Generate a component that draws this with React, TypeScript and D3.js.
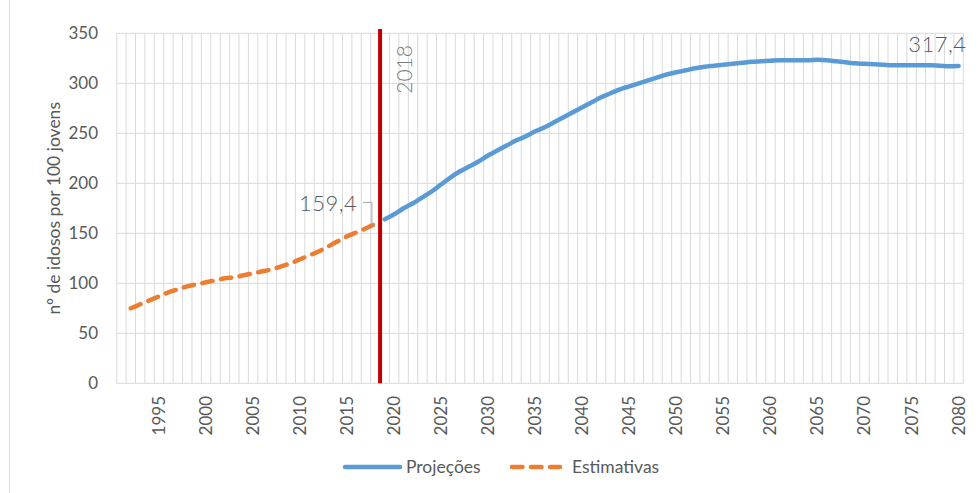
import React from "react";
import * as d3 from "d3";

// Category axis: one slot per year
const years: number[] = d3.range(1991, 2081);

// Estimativas (1992–2018)
const estYears: number[] = d3.range(1992, 2019);
const estValues: number[] = [
  75, 79, 83, 87, 91, 94, 97, 99, 101, 103, 105, 106, 108, 110, 112, 114, 117,
  120, 124, 128, 132, 137, 142, 147, 151, 155, 159.4,
];

// Projeções (2019–2080)
const projYears: number[] = d3.range(2019, 2081);
const projValues: number[] = [
  164, 169, 175, 180, 186, 192, 199, 206, 212, 217, 222, 228, 233, 238, 243,
  247, 252, 256, 261, 266, 271, 276, 281, 286, 290, 294, 297, 300, 303, 306,
  309, 311, 313, 315, 316.5, 317.5, 318.5, 319.5, 320.5, 321.5, 322, 322.5,
  323, 323, 323, 323, 323.5, 323, 322, 321, 320, 319.5, 319, 318.5, 318, 318,
  318, 318, 318, 317.5, 317, 317.4,
];

const yTicks: number[] = [0, 50, 100, 150, 200, 250, 300, 350];
const xTickYears: number[] = years.filter((y) => y % 5 === 0);
const markerYear = 2018;

const W = 979;
const H = 493;
const plot = { left: 116.7, right: 963.3, top: 33.3, bottom: 383.3 };

const FONT = "Lato, 'Open Sans', sans-serif";
const TXT = "#595959";
const GRID = "#d9d9d9";

export default function App() {
  const x = d3
    .scaleBand<number>()
    .domain(years)
    .range([plot.left, plot.right])
    .paddingInner(0)
    .paddingOuter(0);
  const bw = x.bandwidth();
  const xc = (yr: number) => (x(yr) as number) + bw / 2;
  const y = d3.scaleLinear().domain([0, 350]).range([plot.bottom, plot.top]);

  const line = d3
    .line<[number, number]>()
    .x((d) => xc(d[0]))
    .y((d) => y(d[1]))
    .curve(d3.curveMonotoneX);

  const estPts: [number, number][] = estYears.map((yr, i) => [yr, estValues[i]]);
  const projPts: [number, number][] = projYears.map((yr, i) => [yr, projValues[i]]);

  const boundaries = d3.range(years.length + 1).map((i) => plot.left + i * bw);
  const markerX = (x(markerYear) as number) + bw;

  const lastEst = estPts[estPts.length - 1];
  const lastProj = projPts[projPts.length - 1];
  const ex = xc(lastEst[0]);
  const ey = y(lastEst[1]);
  const px = xc(lastProj[0]);
  const py = y(lastProj[1]);

  const fmt = (v: number) => v.toFixed(1).replace(".", ",");

  return (
    <svg
      width={W}
      height={H}
      style={{ position: "absolute", left: 0, top: 0, background: "#fff" }}
      fontFamily={FONT}
    >
      <rect x={0} y={0} width={W} height={H} fill="#fff" />
      {/* chart frame edge */}
      <line x1={9.5} x2={9.5} y1={0} y2={H} stroke={GRID} strokeWidth={1} />

      {/* vertical gridlines at category boundaries */}
      {boundaries.map((bx, i) => (
        <line key={"v" + i} x1={bx} x2={bx} y1={plot.top} y2={plot.bottom} stroke={GRID} strokeWidth={1} />
      ))}
      {/* horizontal gridlines */}
      {yTicks.map((t) => (
        <line key={"h" + t} x1={plot.left} x2={plot.right} y1={y(t)} y2={y(t)} stroke={GRID} strokeWidth={1} />
      ))}

      {/* y tick labels */}
      {yTicks.map((t) => (
        <text key={"yt" + t} x={98} y={y(t)} dy="0.35em" textAnchor="end" fontSize={17} fill={TXT}>
          {t}
        </text>
      ))}

      {/* x tick labels */}
      {xTickYears.map((yr) => (
        <text
          key={"xt" + yr}
          transform={`translate(${xc(yr)},${396}) rotate(-90)`}
          dy="0.35em"
          textAnchor="end"
          fontSize={17}
          fill={TXT}
        >
          {yr}
        </text>
      ))}

      {/* y axis title */}
      <text
        transform={`translate(60,${(plot.top + plot.bottom) / 2}) rotate(-90)`}
        textAnchor="middle"
        fontSize={17.5}
        fill={TXT}
      >
        nº de idosos por 100 jovens
      </text>

      {/* series */}
      <path
        d={line(estPts) ?? ""}
        fill="none"
        stroke="#ed7d31"
        strokeWidth={4.5}
        strokeDasharray="10.5 8.5"
        strokeLinecap="round"
      />
      <path d={line(projPts) ?? ""} fill="none" stroke="#5b9bd5" strokeWidth={4.5} strokeLinecap="round" strokeLinejoin="round" />

      {/* 2018 marker */}
      <line x1={markerX} x2={markerX} y1={29} y2={plot.bottom} stroke="#c00000" strokeWidth={4} />
      <text
        transform={`translate(412,45) rotate(-90)`}
        textAnchor="end"
        fontSize={21}
        fontWeight={300}
        fill="#7f7f7f"
      >
        {markerYear}
      </text>

      {/* data labels */}
      <path
        d={`M${ex - 12.5},${ey - 21.5} H${ex - 3.5} V${ey} H${ex}`}
        fill="none"
        stroke="#a6a6a6"
        strokeWidth={1}
      />
      <text x={ex - 18} y={ey - 13} textAnchor="end" fontSize={22} fontWeight={300} fill={TXT} letterSpacing={0.5}>
        {fmt(lastEst[1])}
      </text>
      <text x={px + 8} y={py - 14} textAnchor="end" fontSize={22} fontWeight={300} fill={TXT} letterSpacing={0.5}>
        {fmt(lastProj[1])}
      </text>

      {/* legend */}
      <line x1={345} x2={400} y1={467} y2={467} stroke="#5b9bd5" strokeWidth={4.5} strokeLinecap="round" />
      <text x={406} y={467} dy="0.35em" fontSize={17.5} fill={TXT}>
        Projeções
      </text>
      <line
        x1={512}
        x2={560}
        y1={467}
        y2={467}
        stroke="#ed7d31"
        strokeWidth={4.5}
        strokeDasharray="10.5 8.5"
        strokeLinecap="round"
      />
      <text x={572} y={467} dy="0.35em" fontSize={17.5} fill={TXT}>
        Estimativas
      </text>
    </svg>
  );
}
